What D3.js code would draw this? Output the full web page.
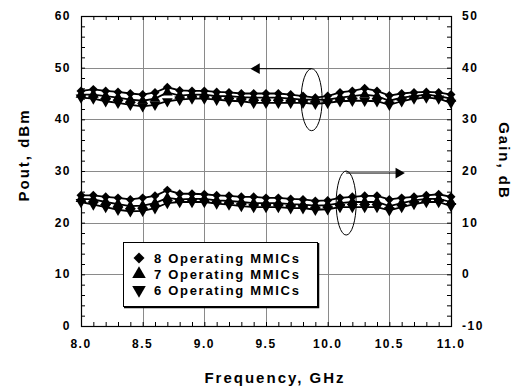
<html>
<head>
  <script src="https://d3js.org/d3.v7.min.js"></script>
  <style>
    body { margin: 0; background: #fff; font-family: "Liberation Sans", Arial, sans-serif; }
    text { font-weight: bold; fill: #000; }
    .tick { font-size: 12px; letter-spacing: 1.5px; }
    .title { font-size: 15px; letter-spacing: 2px; }
    .leg { font-size: 13px; letter-spacing: 1.7px; }
  </style>
</head>
<body>
<script>
  // frequency points, GHz
  var freq = d3.range(31).map(function(i){ return +(8 + i * 0.1).toFixed(1); });

  // output power, dBm (left axis)
  var pout8 = [45.5, 45.8, 45.5, 45.3, 45.0, 44.8, 45.2, 46.2, 45.6, 45.5, 45.5, 45.3, 45.2, 45.0, 45.0, 45.0,
               45.0, 44.8, 44.5, 44.2, 44.5, 45.2, 45.5, 46.0, 45.5, 44.6, 45.0, 45.2, 45.3, 45.2, 44.8];
  var pout7 = [44.8, 44.8, 44.5, 44.2, 43.8, 43.6, 44.0, 45.2, 44.6, 44.8, 44.8, 44.5, 44.5, 44.3, 44.2, 44.2,
               44.2, 44.0, 43.8, 43.8, 43.8, 44.2, 44.5, 44.8, 44.5, 43.6, 44.2, 44.5, 44.8, 44.5, 44.0];
  var pout6 = [44.2, 44.0, 43.5, 43.2, 42.8, 42.5, 42.8, 43.5, 43.8, 44.0, 44.0, 43.8, 43.6, 43.5, 43.2, 43.2,
               43.2, 43.2, 43.2, 43.0, 43.2, 43.5, 43.6, 43.6, 43.5, 42.8, 43.5, 44.0, 44.2, 44.0, 43.2];

  // gain, dB (right axis)
  var gain8 = [15.3, 15.3, 15.0, 14.8, 14.5, 14.8, 15.2, 16.3, 15.6, 15.6, 15.5, 15.3, 15.2, 15.0, 15.0, 14.8,
               14.8, 14.6, 14.5, 14.2, 14.3, 14.8, 15.0, 15.2, 15.2, 14.5, 14.8, 15.0, 15.3, 15.5, 15.0];
  var gain7 = [14.6, 14.5, 14.0, 13.6, 13.2, 13.3, 13.8, 14.8, 14.5, 14.6, 14.6, 14.3, 14.2, 14.0, 13.8, 13.8,
               13.8, 13.6, 13.5, 13.3, 13.4, 13.8, 14.0, 14.0, 14.0, 13.2, 13.8, 14.3, 14.6, 14.6, 14.0];
  var gain6 = [14.0, 13.5, 13.0, 12.5, 12.2, 12.3, 12.8, 13.8, 14.0, 14.0, 14.0, 13.7, 13.5, 13.2, 13.0, 13.0,
               13.0, 12.8, 12.8, 12.5, 12.6, 13.0, 13.0, 13.0, 13.0, 12.4, 13.0, 13.6, 14.0, 14.0, 13.2];

  var legendLabels = ["8 Operating MMICs", "7 Operating MMICs", "6 Operating MMICs"];
  var xTicks = [8.0, 8.5, 9.0, 9.5, 10.0, 10.5, 11.0];
  var yTicks = [0, 10, 20, 30, 40, 50, 60];
  var gTicks = [-10, 0, 10, 20, 30, 40, 50];

  var width = 516, height = 390;
  var pLeft = 81, pRight = 451, pTop = 16, pBottom = 326;

  var svg = d3.select("body").append("svg")
    .attr("width", width).attr("height", height);

  var x = d3.scaleLinear().domain([8, 11]).range([pLeft, pRight]);
  var y = d3.scaleLinear().domain([0, 60]).range([pBottom, pTop]);
  var yg = d3.scaleLinear().domain([-10, 50]).range([pBottom, pTop]);

  // grid
  var grid = svg.append("g").attr("stroke", "#8a8a8a").attr("stroke-width", 1);
  grid.selectAll(".gx").data(xTicks.slice(1, -1)).enter().append("line")
    .attr("x1", function(d){ return Math.round(x(d)) + 0.5; })
    .attr("x2", function(d){ return Math.round(x(d)) + 0.5; })
    .attr("y1", pTop).attr("y2", pBottom);
  grid.selectAll(".gy").data(yTicks.slice(1, -1)).enter().append("line")
    .attr("y1", function(d){ return Math.round(y(d)) + 0.5; })
    .attr("y2", function(d){ return Math.round(y(d)) + 0.5; })
    .attr("x1", pLeft).attr("x2", pRight);

  // axes with inward ticks
  var xMinor = d3.range(8, 11.01, 0.1);
  var yMinor = d3.range(0, 60.1, 2);
  var gMinor = d3.range(-10, 50.1, 2);

  function clean(g) { g.select(".domain").remove(); g.selectAll("text").remove(); }

  svg.append("g").attr("transform", "translate(0," + pBottom + ")")
    .call(d3.axisBottom(x).tickValues(xMinor).tickSize(-4)).call(clean);
  svg.append("g").attr("transform", "translate(0," + pTop + ")")
    .call(d3.axisTop(x).tickValues(xMinor).tickSize(-4)).call(clean);
  svg.append("g").attr("transform", "translate(" + pLeft + ",0)")
    .call(d3.axisLeft(y).tickValues(yMinor).tickSize(-4)).call(clean);
  svg.append("g").attr("transform", "translate(" + pRight + ",0)")
    .call(d3.axisRight(yg).tickValues(gMinor).tickSize(-4)).call(clean);

  svg.append("rect").attr("x", pLeft + 0.5).attr("y", pTop + 0.5)
    .attr("width", pRight - pLeft).attr("height", pBottom - pTop)
    .attr("fill", "none").attr("stroke", "#000").attr("stroke-width", 1.2);

  // tick labels
  svg.selectAll(".xl").data(xTicks).enter().append("text").attr("class", "tick")
    .attr("x", function(d){ return x(d); }).attr("y", pBottom + 22)
    .attr("text-anchor", "middle").text(function(d){ return d.toFixed(1); });
  svg.selectAll(".yl").data(yTicks).enter().append("text").attr("class", "tick")
    .attr("x", pLeft - 10).attr("y", function(d){ return y(d) + 4; })
    .attr("text-anchor", "end").text(function(d){ return d; });
  svg.selectAll(".gl").data(gTicks).enter().append("text").attr("class", "tick")
    .attr("x", pRight + 11).attr("y", function(d){ return yg(d) + 4; })
    .attr("text-anchor", "start").text(function(d){ return d; });

  // axis titles
  svg.append("text").attr("class", "title").attr("text-anchor", "middle")
    .attr("x", 275).attr("y", 383).text("Frequency, GHz");
  svg.append("text").attr("class", "title").attr("text-anchor", "middle")
    .attr("transform", "translate(29,155) rotate(-90)").text("Pout, dBm");
  svg.append("text").attr("class", "title").attr("text-anchor", "middle")
    .attr("transform", "translate(499,161) rotate(90)").text("Gain, dB");

  // markers
  var diamond = d3.symbol().type(d3.symbolSquare).size(40)();
  var tri = d3.symbol().type(d3.symbolTriangle).size(50)();

  function markerTransform(sym, px, py) {
    if (sym == "dia") return "translate(" + px + "," + py + ") rotate(45)";
    if (sym == "down") return "translate(" + px + "," + py + ") rotate(180)";
    return "translate(" + px + "," + py + ")";
  }

  var series = [
    { v: pout8, s: y, sym: "dia" }, { v: pout7, s: y, sym: "up" }, { v: pout6, s: y, sym: "down" },
    { v: gain8, s: yg, sym: "dia" }, { v: gain7, s: yg, sym: "up" }, { v: gain6, s: yg, sym: "down" }
  ];

  series.forEach(function(sr) {
    var line = d3.line()
      .x(function(d, i){ return x(freq[i]); })
      .y(function(d){ return sr.s(d); });
    svg.append("path").datum(sr.v)
      .attr("d", line).attr("fill", "none")
      .attr("stroke", "#000").attr("stroke-width", 1.8);
    svg.append("g").selectAll("path").data(sr.v).enter().append("path")
      .attr("fill", "#000")
      .attr("d", sr.sym == "dia" ? diamond : tri)
      .attr("transform", function(d, i){ return markerTransform(sr.sym, x(freq[i]), sr.s(d)); });
  });

  // annotations: ellipses and arrows
  var ann = svg.append("g").attr("fill", "none").attr("stroke", "#000").attr("stroke-width", 1);
  var arrowHead = d3.symbol().type(d3.symbolTriangle).size(50)();

  var e1x = x(9.87), e1y = y(43.8);
  ann.append("ellipse").attr("cx", e1x).attr("cy", e1y).attr("rx", 10.5).attr("ry", 31);
  ann.append("line").attr("x1", e1x).attr("y1", e1y - 31).attr("x2", x(9.4)).attr("y2", e1y - 31);
  svg.append("path").attr("fill", "#000").attr("d", arrowHead)
    .attr("transform", "translate(" + (x(9.4) + 3) + "," + (e1y - 31) + ") rotate(-90)");

  var e2x = x(10.15), e2y = yg(13.8);
  ann.append("ellipse").attr("cx", e2x).attr("cy", e2y).attr("rx", 10).attr("ry", 32);
  ann.append("line").attr("x1", e2x).attr("y1", e2y - 30).attr("x2", x(10.6)).attr("y2", e2y - 30);
  svg.append("path").attr("fill", "#000").attr("d", arrowHead)
    .attr("transform", "translate(" + (x(10.6) - 3) + "," + (e2y - 30) + ") rotate(90)");

  // legend
  var leg = svg.append("g");
  leg.append("rect").attr("x", 123.5).attr("y", 242.5).attr("width", 194).attr("height", 64)
    .attr("fill", "#fff").attr("stroke", "#000").attr("stroke-width", 1);
  leg.append("path").attr("d", "M124,307.5H318.5V243").attr("fill", "none").attr("stroke", "#000").attr("stroke-width", 1.5);
  var syms = ["dia", "up", "down"];
  var legDiamond = d3.symbol().type(d3.symbolSquare).size(60)();
  var legTri = d3.symbol().type(d3.symbolTriangle).size(80)();
  legendLabels.forEach(function(lab, i) {
    var ly = 258 + i * 16;
    leg.append("path").attr("fill", "#000")
      .attr("d", syms[i] == "dia" ? legDiamond : legTri)
      .attr("transform", markerTransform(syms[i], 139, ly));
    leg.append("text").attr("class", "leg").attr("x", 154).attr("y", ly + 5).text(lab);
  });
</script>
</body>
</html>
